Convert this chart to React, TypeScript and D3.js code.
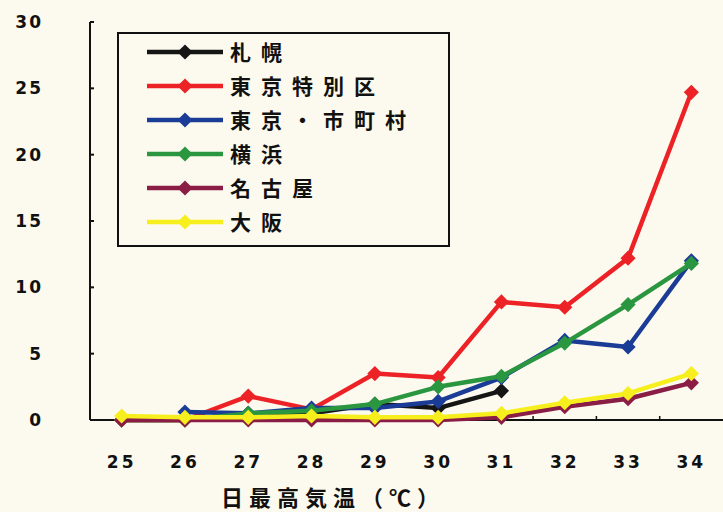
import React from 'react';
import * as d3 from 'd3';

const temps = ['25', '26', '27', '28', '29', '30', '31', '32', '33', '34'];
const yTicks = [0, 5, 10, 15, 20, 25, 30];

const sapporo = [0, 0, 0.5, 0.5, 1.2, 0.9, 2.2, null, null, null];
const tokyoKu = [0, 0, 1.8, 0.8, 3.5, 3.2, 8.9, 8.5, 12.2, 24.7];
const tokyoShi = [null, 0.6, 0.5, 0.9, 0.9, 1.4, 3.2, 6.0, 5.5, 12.0];
const yokohama = [0, 0, 0.5, 0.7, 1.2, 2.5, 3.3, 5.8, 8.7, 11.8];
const nagoya = [0, 0, 0, 0, 0, 0, 0.2, 1.0, 1.6, 2.8];
const osaka = [0.3, 0.2, 0.2, 0.3, 0.2, 0.2, 0.5, 1.3, 2.0, 3.5];

const seriesNames = ['札幌', '東京特別区', '東京・市町村', '横浜', '名古屋', '大阪'];
const seriesValues = [sapporo, tokyoKu, tokyoShi, yokohama, nagoya, osaka];
const seriesColors = ['#151515', '#ec2226', '#1b3c96', '#2b9640', '#8a1d45', '#f7ee1e'];

const W = 723;
const H = 512;
const left = 90;
const right = 723;
const top = 22;
const bottom = 420;

const tickFont = "'DejaVu Sans', sans-serif";
const jpFont = "'Noto Sans CJK JP', sans-serif";

export default function App() {
  const x = d3.scaleBand<string>().domain(temps).range([left, right]);
  const y = d3.scaleLinear().domain([0, 30]).range([bottom, top]);
  const cx = (t: string) => (x(t) as number) + x.bandwidth() / 2;

  const line = d3
    .line<number | null>()
    .defined((d) => d !== null)
    .x((_, i) => cx(temps[i]))
    .y((d) => y(d as number));

  // rotated square, as in the scanned chart's markers
  const diamond = d3.symbol().type(d3.symbolSquare).size(115);

  const legX = 118;
  const legY = 33;
  const legRow = d3.scaleLinear().domain([0, 5]).range([52, 222]);

  return (
    <svg width={W} height={H} style={{ position: 'absolute', left: 0, top: 0 }}>
      <rect x={0} y={0} width={W} height={H} fill="#fcfaee" />

      {/* y axis */}
      <line x1={left} y1={top} x2={left} y2={bottom} stroke="#111" strokeWidth={2} />
      {yTicks.map((t) => (
        <g key={t}>
          <line x1={left} x2={left + 4} y1={y(t)} y2={y(t)} stroke="#111" strokeWidth={2} />
          <text
            x={43}
            y={y(t)}
            dy="0.35em"
            textAnchor="end"
            fontFamily={tickFont}
            fontWeight="bold"
            fontSize={17}
            letterSpacing={2}
            fill="#111"
          >
            {t}
          </text>
        </g>
      ))}

      {/* x axis */}
      <line x1={left} y1={bottom} x2={right} y2={bottom} stroke="#111" strokeWidth={2} />
      {temps.slice(1).map((t) => (
        <line key={t} x1={x(t)} x2={x(t)} y1={bottom} y2={bottom - 4} stroke="#111" strokeWidth={1.5} />
      ))}
      {temps.map((t) => (
        <text
          key={t}
          x={cx(t)}
          y={462}
          dy="0.35em"
          textAnchor="middle"
          fontFamily={tickFont}
          fontWeight="bold"
          fontSize={17}
          letterSpacing={3}
          fill="#111"
        >
          {t}
        </text>
      ))}
      <text
        x={333}
        y={498}
        dy="0.35em"
        textAnchor="middle"
        fontFamily={jpFont}
        fontWeight="bold"
        fontSize={22}
        letterSpacing={6}
        fill="#111"
      >
        日最高気温（℃）
      </text>

      {/* series */}
      {seriesValues.map((vals, si) => (
        <g key={seriesNames[si]}>
          <path d={line(vals) || ''} fill="none" stroke={seriesColors[si]} strokeWidth={4.5} strokeLinejoin="round" />
          {vals.map((v, i) =>
            v === null ? null : (
              <path
                key={i}
                d={diamond() || ''}
                transform={`translate(${cx(temps[i])},${y(v)}) rotate(45)`}
                fill={seriesColors[si]}
              />
            )
          )}
        </g>
      ))}

      {/* legend */}
      <rect x={legX} y={legY} width={331} height={213} fill="#fcfaee" stroke="#111" strokeWidth={2} />
      {seriesNames.map((name, si) => (
        <g key={name} transform={`translate(0,${legRow(si)})`}>
          <line x1={147} x2={223} y1={0} y2={0} stroke={seriesColors[si]} strokeWidth={4.5} />
          <path d={diamond() || ''} transform="translate(185,0) rotate(45)" fill={seriesColors[si]} />
          <text
            x={230}
            y={0}
            dy="0.36em"
            fontFamily={jpFont}
            fontWeight="bold"
            fontSize={21}
            letterSpacing={10}
            fill="#111"
          >
            {name}
          </text>
        </g>
      ))}
    </svg>
  );
}
